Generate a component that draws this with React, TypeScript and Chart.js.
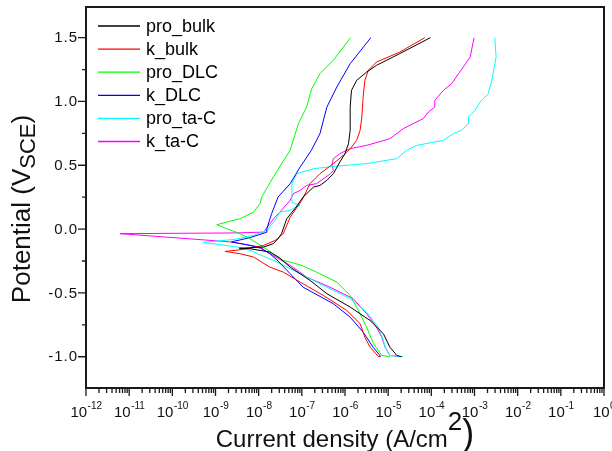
import React, { useEffect, useRef } from "react";
import { Chart, registerables } from "chart.js";
Chart.register(...registerables);

// ---- Data (log10 of current density in A/cm^2, potential in V vs SCE) ----
const seriesNames = ["pro_bulk", "k_bulk", "pro_DLC", "k_DLC", "pro_ta-C", "k_ta-C"];
const seriesColors = ["#000000", "#ff0000", "#00ff00", "#0000ff", "#00ffff", "#ff00ff"];

const proBulkLogI = [-4.69, -4.80, -4.96, -5.11, -5.42, -5.88, -6.42, -6.81, -7.27, -7.52, -7.74, -8.2, -8.45, -8.2, -7.89, -7.66, -7.55, -7.47, -7.35, -7.16, -6.97, -6.85, -6.73, -6.58, -6.42, -6.27, -6.12, -6.0, -5.92, -5.88, -5.88, -5.85, -5.73, -5.50, -5.27, -4.73, -4.02];
const proBulkE = [-1.0, -0.99, -0.925, -0.82, -0.716, -0.611, -0.506, -0.402, -0.298, -0.225, -0.18, -0.154, -0.15, -0.146, -0.141, -0.114, -0.075, -0.036, 0.081, 0.16, 0.251, 0.29, 0.329, 0.342, 0.382, 0.434, 0.525, 0.591, 0.669, 0.774, 0.956, 1.087, 1.165, 1.23, 1.283, 1.375, 1.5];

const kBulkLogI = [-5.18, -5.23, -5.42, -5.54, -5.65, -5.96, -6.5, -7.04, -7.43, -7.74, -8.12, -8.43, -8.78, -8.5, -8.2, -7.89, -7.62, -7.43, -7.27, -7.0, -6.81, -6.58, -6.27, -6.04, -5.88, -5.73, -5.65, -5.61, -5.58, -5.54, -5.46, -5.27, -4.73, -4.15];
const kBulkE = [-1.0, -0.998, -0.925, -0.846, -0.741, -0.637, -0.52, -0.415, -0.337, -0.298, -0.219, -0.193, -0.175, -0.165, -0.15, -0.128, -0.089, -0.036, 0.094, 0.225, 0.356, 0.434, 0.513, 0.578, 0.63, 0.695, 0.774, 0.878, 1.034, 1.165, 1.244, 1.309, 1.387, 1.5];

const proDlcLogI = [-4.96, -5.15, -5.34, -5.50, -5.65, -5.88, -6.19, -6.66, -7.04, -7.43, -7.81, -8.13, -8.43, -8.74, -8.97, -8.74, -8.43, -8.12, -7.97, -7.93, -7.66, -7.47, -7.27, -7.08, -6.89, -6.77, -6.58, -6.27, -5.87];
const proDlcE = [-1.0, -0.99, -0.898, -0.768, -0.663, -0.52, -0.415, -0.337, -0.28, -0.245, -0.16, -0.09, -0.036, 0.003, 0.034, 0.055, 0.081, 0.133, 0.199, 0.251, 0.408, 0.513, 0.618, 0.826, 0.956, 1.10, 1.218, 1.323, 1.5];

const kDlcLogI = [-5.17, -5.35, -5.58, -5.88, -6.27, -6.97, -7.27, -7.55, -7.74, -7.95, -8.2, -8.63, -8.2, -7.81, -7.81, -7.70, -7.55, -7.27, -7.04, -6.78, -6.58, -6.42, -6.19, -5.88, -5.40];
const kDlcE = [-1.0, -0.925, -0.807, -0.69, -0.585, -0.455, -0.35, -0.25, -0.193, -0.15, -0.128, -0.10, -0.067, -0.024, 0.003, 0.121, 0.251, 0.356, 0.486, 0.617, 0.748, 0.956, 1.113, 1.296, 1.5];

const proTacLogI = [-4.65, -4.96, -5.07, -5.11, -5.23, -5.50, -5.88, -6.42, -7.04, -7.58, -8.2, -8.5, -9.28, -8.55, -8.12, -7.81, -7.62, -7.51, -7.27, -7.04, -7.23, -7.23, -7.23, -7.12, -6.73, -6.27, -5.50, -4.80, -4.57, -4.34, -3.72, -3.49, -3.30, -3.14, -3.14, -2.99, -2.87, -2.68, -2.60, -2.50, -2.53];
const proTacE = [-1.0, -0.99, -0.925, -0.872, -0.768, -0.65, -0.545, -0.455, -0.35, -0.258, -0.167, -0.14, -0.104, -0.08, -0.049, -0.01, 0.068, 0.133, 0.147, 0.186, 0.21, 0.264, 0.356, 0.434, 0.473, 0.491, 0.513, 0.552, 0.617, 0.656, 0.695, 0.748, 0.774, 0.826, 0.878, 0.93, 0.995, 1.061, 1.165, 1.348, 1.5];

const kTacLogI = [-4.70, -4.96, -5.07, -5.15, -5.27, -5.50, -5.81, -6.35, -6.89, -7.27, -7.74, -7.97, -8.66, -11.21, -8.5, -7.89, -7.74, -7.62, -7.51, -7.27, -7.20, -7.04, -6.89, -6.66, -6.35, -6.27, -6.30, -6.27, -6.12, -5.88, -5.50, -4.96, -4.65, -4.42, -4.19, -4.07, -3.92, -3.92, -3.72, -3.53, -3.37, -3.26, -3.10, -3.01];
const kTacE = [-1.0, -0.99, -0.925, -0.846, -0.768, -0.663, -0.545, -0.455, -0.376, -0.284, -0.193, -0.14, -0.10, -0.036, -0.03, -0.024, 0.042, 0.094, 0.133, 0.225, 0.277, 0.303, 0.342, 0.356, 0.43, 0.46, 0.5, 0.552, 0.591, 0.63, 0.656, 0.708, 0.787, 0.826, 0.865, 0.917, 0.956, 1.009, 1.087, 1.14, 1.218, 1.27, 1.348, 1.5];

const seriesLogI = [proBulkLogI, kBulkLogI, proDlcLogI, kDlcLogI, proTacLogI, kTacLogI];
const seriesE = [proBulkE, kBulkE, proDlcE, kDlcE, proTacE, kTacE];

// ---- Axis ticks ----
const xTickExponents = [-12, -11, -10, -9, -8, -7, -6, -5, -4, -3, -2, -1, 0];
const xMinorMultipliers = [2, 3, 4, 5, 6, 7, 8, 9];
const yTickValues = [-1.0, -0.5, 0.0, 0.5, 1.0, 1.5];
const yTickLabels = ["-1.0", "-0.5", "0.0", "0.5", "1.0", "1.5"];
const yMinorValues = [-0.75, -0.25, 0.25, 0.75, 1.25];

const X_MIN = 1e-12;
const X_MAX = 1;
const Y_MIN = -1.245;
const Y_MAX = 1.74;

const FONT = "'Liberation Sans', Arial, Helvetica, sans-serif";

const decorPlugin = {
  id: "decor",
  afterDraw(chart: any) {
    const ctx: CanvasRenderingContext2D = chart.ctx;
    const a = chart.chartArea;
    const xs = chart.scales.x;
    const ys = chart.scales.y;
    ctx.save();

    // ticks
    ctx.strokeStyle = "#1a1a1a";
    ctx.lineWidth = 1.3;
    ctx.beginPath();
    xTickExponents.forEach((e) => {
      const px = xs.getPixelForValue(Math.pow(10, e));
      ctx.moveTo(px, a.bottom);
      ctx.lineTo(px, a.bottom + 8);
      if (e < 0) {
        xMinorMultipliers.forEach((m) => {
          const p = xs.getPixelForValue(m * Math.pow(10, e));
          ctx.moveTo(p, a.bottom);
          ctx.lineTo(p, a.bottom + 5);
        });
      }
    });
    yTickValues.forEach((v) => {
      const py = ys.getPixelForValue(v);
      ctx.moveTo(a.left, py);
      ctx.lineTo(a.left - 8, py);
    });
    yMinorValues.forEach((v) => {
      const py = ys.getPixelForValue(v);
      ctx.moveTo(a.left, py);
      ctx.lineTo(a.left - 4, py);
    });
    ctx.stroke();

    // frame
    ctx.lineWidth = 2;
    ctx.strokeRect(a.left, a.top, a.right - a.left, a.bottom - a.top);

    ctx.fillStyle = "#111";
    // y tick labels
    ctx.font = `15px ${FONT}`;
    (ctx as any).letterSpacing = "1px";
    ctx.textAlign = "right";
    ctx.textBaseline = "middle";
    yTickValues.forEach((v, i) => {
      const py = ys.getPixelForValue(v);
      ctx.fillText(yTickLabels[i], a.left - 8, py + 0.5);
    });
    (ctx as any).letterSpacing = "0px";

    // x tick labels 10^n
    ctx.textAlign = "left";
    ctx.textBaseline = "alphabetic";
    xTickExponents.forEach((e) => {
      const px = xs.getPixelForValue(Math.pow(10, e));
      ctx.font = `15px ${FONT}`;
      const w1 = ctx.measureText("10").width;
      ctx.font = `10px ${FONT}`;
      const expText = String(e);
      const w2 = ctx.measureText(expText).width;
      const x0 = px - (w1 + w2) / 2;
      ctx.font = `15px ${FONT}`;
      ctx.fillText("10", x0, a.bottom + 29);
      ctx.font = `10px ${FONT}`;
      ctx.fillText(expText, x0 + w1 + 0.5, a.bottom + 21);
    });

    // x axis title
    const xParts = [
      { t: "Current density (A/cm", size: 24, dy: 0 },
      { t: "2", size: 26, dy: -17 },
      { t: ")", size: 36, dy: -2 },
    ];
    let total = 0;
    const widths = xParts.map((p) => {
      ctx.font = `${p.size}px ${FONT}`;
      const w = ctx.measureText(p.t).width;
      total += w;
      return w;
    });
    let cx = (a.left + a.right) / 2 - total / 2;
    const xBase = 447;
    xParts.forEach((p, i) => {
      ctx.font = `${p.size}px ${FONT}`;
      ctx.fillText(p.t, cx, xBase + p.dy);
      cx += widths[i];
    });

    // y axis title (rotated)
    const yParts = [
      { t: "Potential (V", size: 26, dy: 0 },
      { t: "SCE", size: 22, dy: 5 },
      { t: ")", size: 26, dy: 0 },
    ];
    let ytotal = 0;
    const ywidths = yParts.map((p) => {
      ctx.font = `${p.size}px ${FONT}`;
      const w = ctx.measureText(p.t).width;
      ytotal += w;
      return w;
    });
    ctx.save();
    ctx.translate(30, 209);
    ctx.rotate(-Math.PI / 2);
    let yx = -ytotal / 2;
    yParts.forEach((p, i) => {
      ctx.font = `${p.size}px ${FONT}`;
      ctx.fillText(p.t, yx, p.dy);
      yx += ywidths[i];
    });
    ctx.restore();

    // legend
    ctx.font = `18px ${FONT}`;
    ctx.textBaseline = "middle";
    ctx.textAlign = "left";
    seriesNames.forEach((name, i) => {
      const ly = a.top + 19 + i * 23.1;
      ctx.strokeStyle = seriesColors[i];
      ctx.lineWidth = 1.3;
      ctx.beginPath();
      ctx.moveTo(a.left + 12, ly);
      ctx.lineTo(a.left + 54, ly);
      ctx.stroke();
      ctx.fillStyle = "#000";
      ctx.fillText(name, a.left + 60, ly + 1);
    });

    ctx.restore();
  },
};

export default function App() {
  const ref = useRef<HTMLCanvasElement>(null);
  useEffect(() => {
    const canvas = ref.current;
    if (!canvas) return;
    const datasets = seriesNames.map((name, i) => ({
      label: name,
      data: seriesLogI[i].map((l, j) => ({ x: Math.pow(10, l), y: seriesE[i][j] })),
      showLine: true,
      borderColor: seriesColors[i],
      backgroundColor: seriesColors[i],
      borderWidth: 1,
      pointRadius: 0,
      fill: false,
      tension: 0,
    }));
    const chart = new Chart(canvas, {
      type: "scatter",
      data: { datasets },
      options: {
        animation: false,
        responsive: false,
        devicePixelRatio: 1,
        layout: { padding: { left: 86, right: 8, top: 7, bottom: 63 } },
        plugins: { legend: { display: false }, tooltip: { enabled: false } },
        scales: {
          x: { type: "logarithmic", min: X_MIN, max: X_MAX, display: false },
          y: { type: "linear", min: Y_MIN, max: Y_MAX, display: false },
        },
      },
      plugins: [decorPlugin],
    } as any);
    return () => chart.destroy();
  }, []);
  return (
    <div style={{ position: "absolute", left: 0, top: 0, width: 612, height: 451, background: "#fff" }}>
      <canvas ref={ref} width={612} height={451} style={{ display: "block", width: 612, height: 451 }} />
    </div>
  );
}
